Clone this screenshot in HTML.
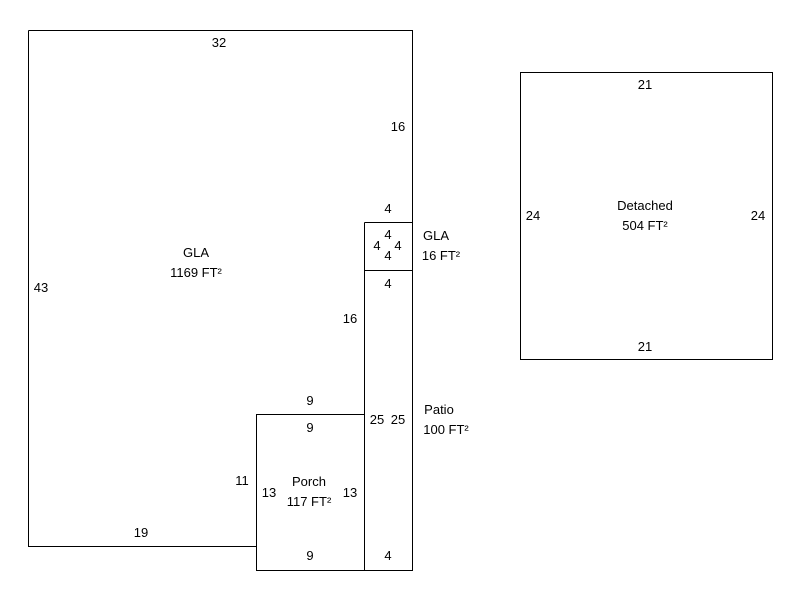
<!DOCTYPE html>
<html><head><meta charset="utf-8"><style>
html,body{margin:0;padding:0;background:#fff;}
svg{display:block;}
text{font-family:"Liberation Sans",Arial,sans-serif;font-size:13px;fill:#000;text-anchor:middle;}
</style></head><body>
<svg width="800" height="600" xmlns="http://www.w3.org/2000/svg">
<g fill="none" stroke="#000" stroke-width="1" shape-rendering="crispEdges">
<polyline points="28.5,30.5 412.5,30.5 412.5,570.5 256.5,570.5 256.5,546.5 28.5,546.5 28.5,30.5"/>
<line x1="364.5" y1="222.5" x2="364.5" y2="570.5"/>
<line x1="364.5" y1="222.5" x2="412.5" y2="222.5"/>
<line x1="364.5" y1="270.5" x2="412.5" y2="270.5"/>
<polyline points="256.5,546.5 256.5,414.5 364.5,414.5"/>
<rect x="520.5" y="72.5" width="252" height="287"/>
</g>
<text x="219" y="47">32</text>
<text x="398" y="131">16</text>
<text x="41" y="292">43</text>
<text x="196" y="257">GLA</text>
<text x="196" y="277">1169 FT²</text>
<text x="388" y="213">4</text>
<text x="388" y="239">4</text>
<text x="388" y="260">4</text>
<text x="377" y="250">4</text>
<text x="398" y="250">4</text>
<text x="436" y="240">GLA</text>
<text x="441" y="260">16 FT²</text>
<text x="388" y="288">4</text>
<text x="350" y="323">16</text>
<text x="310" y="405">9</text>
<text x="310" y="432">9</text>
<text x="377" y="424">25</text>
<text x="398" y="424">25</text>
<text x="439" y="414">Patio</text>
<text x="446" y="434">100 FT²</text>
<text x="242" y="485">11</text>
<text x="269" y="497">13</text>
<text x="350" y="497">13</text>
<text x="309" y="486">Porch</text>
<text x="309" y="506">117 FT²</text>
<text x="141" y="537">19</text>
<text x="310" y="560">9</text>
<text x="388" y="560">4</text>
<text x="645" y="89">21</text>
<text x="533" y="220">24</text>
<text x="758" y="220">24</text>
<text x="645" y="210">Detached</text>
<text x="645" y="230">504 FT²</text>
<text x="645" y="351">21</text>
</svg>
</body></html>
